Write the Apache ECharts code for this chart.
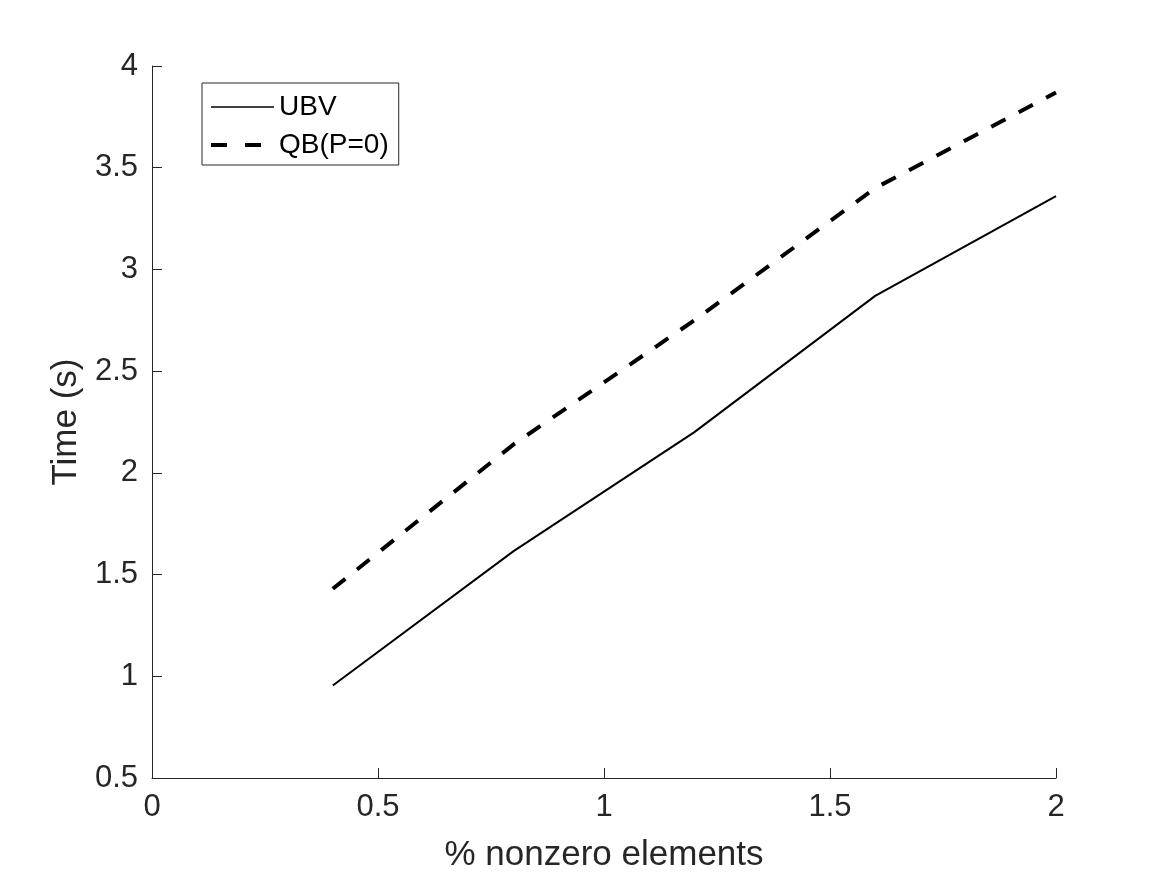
<!DOCTYPE html>
<html>
<head>
<meta charset="utf-8">
<script src="https://cdn.jsdelivr.net/npm/echarts@6/dist/echarts.min.js"></script>
<style>html,body{margin:0;padding:0;background:#fff;}#c{width:1167px;height:875px;}</style>
</head>
<body>
<div id="c"></div>
<script>
const xValues = [0.4, 0.8, 1.2, 1.6, 2.0];
const ubv = [0.955, 1.615, 2.20, 2.87, 3.36];
const qb = [1.43, 2.14, 2.75, 3.40, 3.87];
const seriesNames = ['UBV', 'QB(P=0)'];
const xTitle = '% nonzero elements';
const yTitle = 'Time (s)';

const font = '"Liberation Sans", Helvetica, Arial, sans-serif';
const txt = '#262626';
const chart = echarts.init(document.getElementById('c'), null, {renderer: 'canvas'});
chart.setOption({
  backgroundColor: '#fff',
  animation: false,
  grid: {left: 152, top: 66, right: 111, bottom: 97, containLabel: false, outerBoundsMode: 'none'},
  legend: {
    left: 202, top: 83, orient: 'vertical',
    icon: 'inherit',
    itemStyle: {opacity: 0},
    padding: [9, 10, 5, 7],
    itemWidth: 63, itemHeight: 14, itemGap: 8,
    borderColor: '#262626', borderWidth: 1, backgroundColor: '#fff',
    textStyle: {fontFamily: font, fontSize: 28, color: '#000', lineHeight: 30},
    data: [
      {name: seriesNames[0], lineStyle: {width: 1.6, type: 'solid', color: '#000'}},
      {name: seriesNames[1], lineStyle: {width: 4, type: [16, 18], color: '#000'}}
    ]
  },
  xAxis: {
    type: 'value', min: 0, max: 2, interval: 0.5,
    name: xTitle, nameLocation: 'middle', nameGap: 60,
    nameTextStyle: {fontFamily: font, fontSize: 35, color: txt},
    axisLine: {show: true, lineStyle: {color: txt, width: 1}},
    axisTick: {show: true, inside: true, length: 10, lineStyle: {color: txt}},
    axisLabel: {fontFamily: font, fontSize: 31, color: txt, margin: 14,
      formatter: v => String(v)},
    splitLine: {show: false}
  },
  yAxis: {
    type: 'value', min: 0.5, max: 4, interval: 0.5,
    name: yTitle, nameLocation: 'middle', nameGap: 66,
    nameTextStyle: {fontFamily: font, fontSize: 35, color: txt},
    axisLine: {show: true, lineStyle: {color: txt, width: 1}},
    axisTick: {show: true, inside: true, length: 10, lineStyle: {color: txt}},
    axisLabel: {fontFamily: font, fontSize: 31, color: txt, margin: 14,
      formatter: v => String(v)},
    splitLine: {show: false}
  },
  series: [
    {name: seriesNames[0], type: 'line', data: xValues.map((x, i) => [x, ubv[i]]),
     symbol: 'none', lineStyle: {color: '#000', width: 2, type: 'solid'}, itemStyle: {color: '#000'}},
    {name: seriesNames[1], type: 'line', data: xValues.map((x, i) => [x, qb[i]]),
     symbol: 'none', lineStyle: {color: '#000', width: 4, type: [16, 15]}, itemStyle: {color: '#000'}}
  ]
});
</script>
</body>
</html>
